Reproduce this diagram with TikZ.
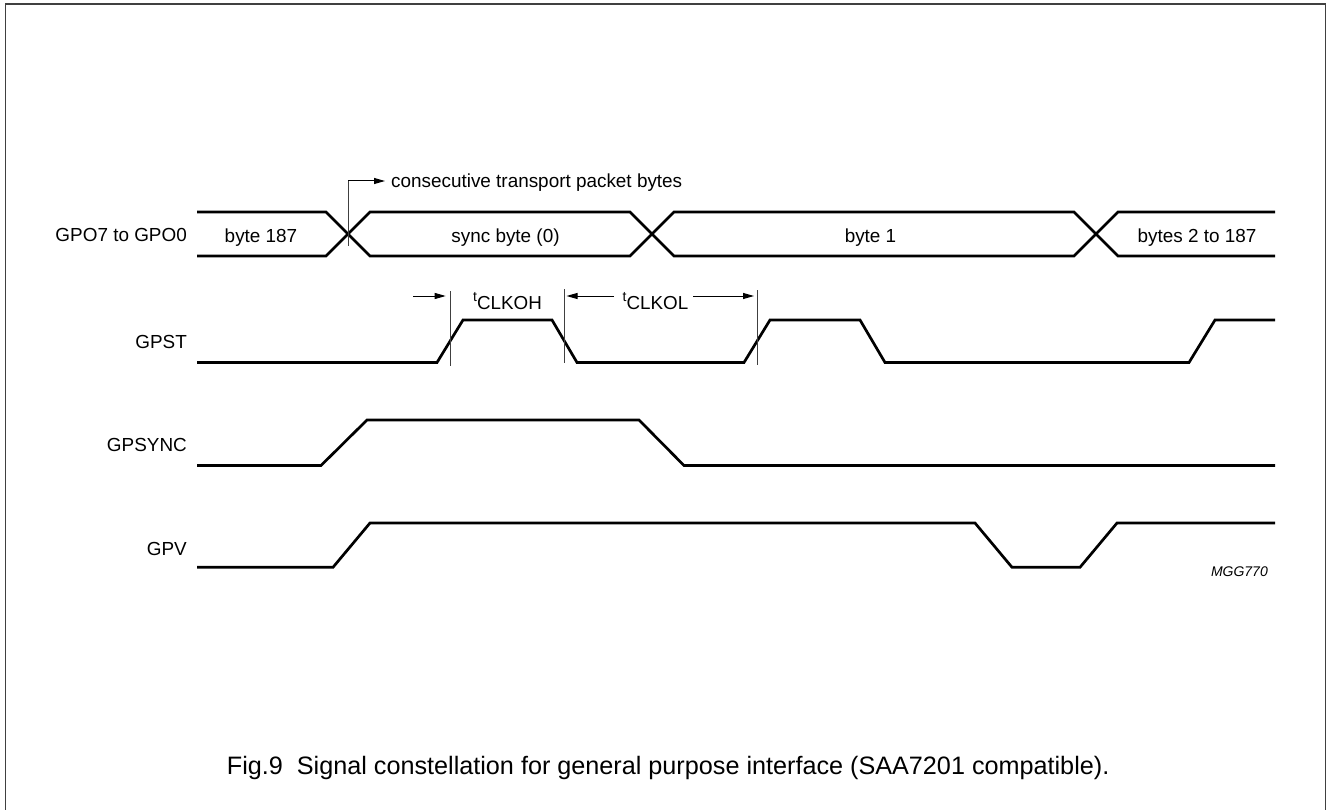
\documentclass[tikz,border=0pt]{standalone}
\usepackage{fontspec}
\setmainfont{Liberation Sans}
\usetikzlibrary{arrows.meta}
\begin{document}
\begin{tikzpicture}[x=1pt,y=-1pt,
  sig/.style={line width=2.7pt, line join=miter, line cap=butt},
  frame/.style={line width=1.6pt, black!75},
  marker/.style={line width=0.9pt, black!75},
  dimarrow/.style={line width=1pt, -{Triangle[length=11pt,width=6pt]}},
  lbl/.style={font=\fontsize{18.9}{22}\selectfont, inner sep=0pt},
  tsub/.style={font=\fontsize{18.8}{22}\selectfont, inner sep=0pt}]
\useasboundingbox (0,0) rectangle (1327,810);
% frame
\draw[frame] (5.5,815) -- (5.5,4) -- (1325.5,4) -- (1325.5,815);

% signal labels
\node[lbl, anchor=base east] (lgpo)    at (187,241.8) {GPO7 to GPO0};
\node[lbl, anchor=base east] (lgpst)   at (187,348.4) {GPST};
\node[lbl, anchor=base east] (lgpsync) at (187,451.7) {GPSYNC};
\node[lbl, anchor=base east] (lgpv)    at (187,555.0) {GPV};

% bus GPO7..GPO0
\draw[sig] (197,212) -- (326,212) -- (370,256) -- (630,256) -- (674,212)
           -- (1074,212) -- (1118,256) -- (1275,256);
\draw[sig] (197,256) -- (326,256) -- (370,212) -- (630,212) -- (674,256)
           -- (1074,256) -- (1118,212) -- (1275,212);
\node[lbl, anchor=base] (b187) at (261,242.3) {byte 187};
\node[lbl, anchor=base] (sync) at (505.5,242.3) {sync byte (0)};
\node[lbl, anchor=base] (b1)   at (870.5,242.3) {byte 1};
\node[lbl, anchor=base] (b2)   at (1197,242.3) {bytes 2 to 187};

% consecutive transport packet bytes
\coordinate (cx1) at (348,246);
\coordinate (cx2) at (348,181);
\node[lbl, anchor=base west] (cons) at (391,187.5) {consecutive transport packet bytes};
\draw[marker] (cx1) -- (cx2);
\draw[dimarrow] (cx2) -- ([xshift=-6pt]cons.west |- cx2);

% GPST
\draw[sig] (197,362.5) -- (437,362.5) -- (463,320) -- (552,320) -- (577,362.5)
           -- (744,362.5) -- (770,320) -- (860,320) -- (885,362.5)
           -- (1189,362.5) -- (1215,320) -- (1275,320);

% timing markers
\coordinate (m1t) at (450.7,291); \coordinate (m1b) at (450.7,366);
\coordinate (m2t) at (564.5,289); \coordinate (m2b) at (564.5,363);
\coordinate (m3t) at (757,290);   \coordinate (m3b) at (757,365);
\draw[marker] (m1t) -- (m1b);
\draw[marker] (m2t) -- (m2b);
\draw[marker] (m3t) -- (m3b);

\coordinate (a1s) at (413,296);
\draw[dimarrow] (a1s) -- ([xshift=-5pt]m1t |- a1s);
\node[tsub, anchor=base west] (tclkoh) at (473,309.3)
  {\raisebox{8pt}{\fontsize{14}{16}\selectfont t}CLKOH};
\node[tsub, anchor=base west] (tclkol) at (622.5,309.3)
  {\raisebox{8pt}{\fontsize{14}{16}\selectfont t}CLKOL};
\coordinate (a2s) at (614,296);
\draw[dimarrow] (a2s) -- ([xshift=2pt]m2t |- a2s);
\coordinate (a3s) at (693,296);
\draw[dimarrow] (a3s) -- ([xshift=-3pt]m3t |- a3s);

% GPSYNC
\draw[sig] (197,465.5) -- (321,465.5) -- (367,420) -- (639,420) -- (684,465.5)
           -- (1275,465.5);

% GPV
\draw[sig] (197,567.3) -- (333,567.3) -- (370,523) -- (975,523) -- (1012,567.3)
           -- (1080,567.3) -- (1117,523) -- (1275,523);

\node[inner sep=0pt, anchor=base east, font=\fontsize{14}{16}\selectfont\itshape] (mgg) at (1268,576.5) {MGG770};

% caption
\node[inner sep=0pt, anchor=base west, font=\fontsize{25.2}{29}\selectfont] (cap) at (226.7,774.3)
  {Fig.9~~Signal constellation for general purpose interface (SAA7201 compatible).};
\end{tikzpicture}
\end{document}
